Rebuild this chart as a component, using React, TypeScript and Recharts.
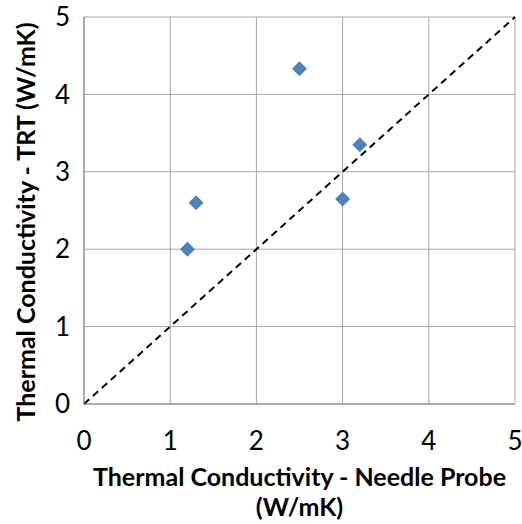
import {
  ScatterChart,
  Scatter,
  XAxis,
  YAxis,
  CartesianGrid,
  ReferenceLine,
  Label
} from 'recharts';

const needleProbe = [1.2, 1.3, 2.5, 3.0, 3.2];
const trt = [2.0, 2.6, 4.33, 2.65, 3.35];
const ticks = [0, 1, 2, 3, 4, 5];

const points = needleProbe.map((x, i) => ({ x, y: trt[i] }));

const font = 'Lato, "Open Sans", sans-serif';

const Diamond = (props: any) => {
  const { cx, cy } = props;
  const r = 7.5;
  return (
    <path
      d={`M${cx},${cy - r}L${cx + r},${cy}L${cx},${cy + r}L${cx - r},${cy}Z`}
      fill="#4f81bd"
    />
  );
};

const XTitle = (props: any) => {
  const { viewBox } = props;
  const cx = viewBox.x + viewBox.width / 2;
  return (
    <text x={cx} textAnchor="middle" fontFamily={font} fontWeight="bold" fontSize={25} fill="#000">
      <tspan x={cx} y={486}>Thermal Conductivity - Needle Probe</tspan>
      <tspan x={cx} y={516}>(W/mK)</tspan>
    </text>
  );
};

const YTitle = () => (
  <text
    x={35}
    y={222}
    transform="rotate(-90 35 222)"
    textAnchor="middle"
    fontFamily={font}
    fontWeight="bold"
    fontSize={25}
    fill="#000"
  >
    Thermal Conductivity - TRT (W/mK)
  </text>
);

export default function App() {
  return (
    <div style={{ position: 'fixed', left: 0, top: 0, background: '#fff' }}>
      <ScatterChart
        width={522}
        height={524}
        margin={{ top: 17, right: 7, bottom: 90, left: 24 }}
      >
        <CartesianGrid stroke="#a6a6a6" strokeWidth={1} />
        <XAxis
          type="number"
          dataKey="x"
          domain={[0, 5]}
          ticks={ticks}
          height={30}
          axisLine={{ stroke: '#868686' }}
          tickLine={false}
          tickMargin={22}
          tick={{ fill: '#000', fontSize: 26, fontFamily: font }}
        >
          <Label content={XTitle} />
        </XAxis>
        <YAxis
          type="number"
          dataKey="y"
          domain={[0, 5]}
          ticks={ticks}
          width={60}
          axisLine={{ stroke: '#868686' }}
          tickLine={false}
          tickMargin={8}
          tick={{ fill: '#000', fontSize: 26, fontFamily: font }}
        >
          <Label content={YTitle} />
        </YAxis>
        <ReferenceLine
          segment={[{ x: 0, y: 0 }, { x: 5, y: 5 }]}
          stroke="#000"
          strokeWidth={2}
          strokeDasharray="7 5"
        />
        <Scatter data={points} shape={Diamond} isAnimationActive={false} />
      </ScatterChart>
    </div>
  );
}
